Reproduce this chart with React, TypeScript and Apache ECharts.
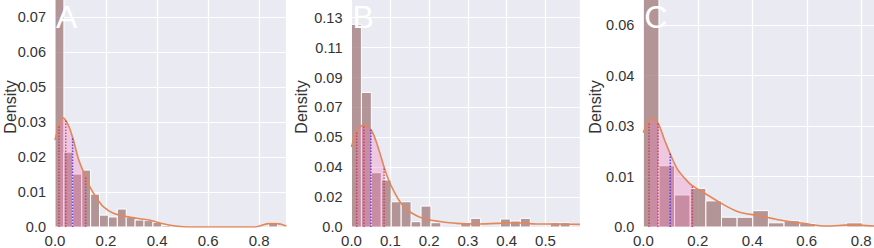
import React, { useEffect, useRef } from "react";
import * as echarts from "echarts";

// ---------- data ----------
const panelLetters = ["A", "B", "C"];
const yAxisTitle = "Density";

// Panel A
const aBinWidth = 0.0349;
const aHist = [0.085, 0.0246, 0.0174, 0.0187, 0.0108, 0.0039, 0.0033, 0.0059, 0.0032, 0.0023, 0.0021, 0.0015, 0.0005, 0, 0, 0, 0, 0, 0, 0, 0, 0, 0, 0, 0.0014, 0];
const aKdeX = [0, 0.015, 0.03, 0.052, 0.072, 0.091, 0.111, 0.137, 0.164, 0.189, 0.229, 0.281, 0.333, 0.373, 0.412, 0.464, 0.502, 0.6, 0.75, 0.79, 0.836, 0.869, 0.907];
const aKdeY = [0.0286, 0.0332, 0.036, 0.0335, 0.0286, 0.0226, 0.0182, 0.0132, 0.0094, 0.0067, 0.0045, 0.0034, 0.0027, 0.0022, 0.0013, 0.0004, 0.0001, 0, 0, 0.0001, 0.0011, 0.0011, 0.0003];
const aQuartiles = [0.0157, 0.042, 0.12];
const aQuartileTops = [0.0332, 0.0352, 0.0165];
const aMean = 0.069;
const aMeanTop = 0.0295;
const aYTicks = ["0.0", "0.01", "0.02", "0.03", "0.05", "0.06", "0.07"];
const aYStep = 0.0115;
const aXTicks = ["0.0", "0.2", "0.4", "0.6", "0.8"];
const aXStep = 0.2;
const aXMax = 0.907;

// Panel B
const bBinWidth = 0.0256;
const bHist = [0.122, 0.081, 0.0327, 0.0283, 0.0152, 0.0152, 0.0032, 0.0126, 0.0026, 0, 0, 0.0022, 0.0052, 0, 0, 0.0048, 0.0036, 0.0052, 0, 0, 0.0026, 0.0026, 0];
const bKdeX = [0, 0.0134, 0.0304, 0.052, 0.069, 0.0863, 0.1036, 0.129, 0.155, 0.189, 0.228, 0.271, 0.323, 0.374, 0.426, 0.477, 0.529, 0.5886];
const bKdeY = [0.0482, 0.0572, 0.0614, 0.0578, 0.0476, 0.0343, 0.0241, 0.0138, 0.0084, 0.0048, 0.0033, 0.0022, 0.0018, 0.0022, 0.0026, 0.0018, 0.0018, 0.0016];
const bQuartiles = [0.0134, 0.032, 0.084];
const bQuartileTops = [0.057, 0.0613, 0.036];
const bMean = 0.05;
const bMeanTop = 0.059;
const bYTicks = ["0.0", "0.02", "0.04", "0.05", "0.07", "0.09", "0.11", "0.13"];
const bYStep = 0.018;
const bXTicks = ["0.0", "0.1", "0.2", "0.3", "0.4", "0.5"];
const bXStep = 0.1;
const bXMax = 0.5886;

// Panel C
const cBinWidth = 0.0574;
const cHist = [0.075, 0.0176, 0.0092, 0.0111, 0.0075, 0.0028, 0.0028, 0.0047, 0.0012, 0.0018, 0.001, 0, 0, 0.0012, 0];
const cKdeX = [0, 0.032, 0.054, 0.078, 0.103, 0.127, 0.152, 0.176, 0.225, 0.286, 0.348, 0.428, 0.502, 0.6, 0.673, 0.759, 0.861];
const cKdeY = [0.0271, 0.0312, 0.0298, 0.025, 0.0202, 0.0164, 0.014, 0.0121, 0.0097, 0.0068, 0.0044, 0.0032, 0.002, 0.0009, 0.0003, 0.0006, 0.0002];
const cQuartiles = [0.021, 0.054, 0.18];
const cQuartileTops = [0.0297, 0.0298, 0.0118];
const cMean = 0.099;
const cMeanTop = 0.021;
const cYTicks = ["0.0", "0.01", "0.03", "0.04", "0.06"];
const cYStep = 0.0145;
const cXTicks = ["0.0", "0.2", "0.4", "0.6", "0.8"];
const cXStep = 0.2;
const cXMax = 0.861;

// ---------- layout / style ----------
const FONT = '"Liberation Sans", Arial, sans-serif';
const BG = "#EAEAF2";
const BAR = "rgba(160,120,120,0.75)";
const KDE = "#e2875a";
const FILL = "rgba(245,125,190,0.32)";
const RED = "rgba(205,40,80,0.75)";
const BLUE = "rgba(70,50,230,0.85)";

const grids = [
  { left: 55, top: -13, width: 231.4, height: 240, titleX: 10, yPxPerStep: 35 },
  { left: 351.5, top: -13, width: 228.4, height: 240, titleX: 301, yPxPerStep: 29.9 },
  { left: 643.3, top: -13, width: 234.6, height: 240, titleX: 595, yPxPerStep: 50.5 },
];

type Panel = {
  binWidth: number; hist: number[]; kdeX: number[]; kdeY: number[];
  q: number[]; qTops: number[]; mean: number; meanTop: number;
  yTicks: string[]; yStep: number; xTicks: string[]; xStep: number; xMax: number;
};

const panels: Panel[] = [
  { binWidth: aBinWidth, hist: aHist, kdeX: aKdeX, kdeY: aKdeY, q: aQuartiles, qTops: aQuartileTops, mean: aMean, meanTop: aMeanTop, yTicks: aYTicks, yStep: aYStep, xTicks: aXTicks, xStep: aXStep, xMax: aXMax },
  { binWidth: bBinWidth, hist: bHist, kdeX: bKdeX, kdeY: bKdeY, q: bQuartiles, qTops: bQuartileTops, mean: bMean, meanTop: bMeanTop, yTicks: bYTicks, yStep: bYStep, xTicks: bXTicks, xStep: bXStep, xMax: bXMax },
  { binWidth: cBinWidth, hist: cHist, kdeX: cKdeX, kdeY: cKdeY, q: cQuartiles, qTops: cQuartileTops, mean: cMean, meanTop: cMeanTop, yTicks: cYTicks, yStep: cYStep, xTicks: cXTicks, xStep: cXStep, xMax: cXMax },
];

function tickFormatter(labels: string[], step: number) {
  return (v: number) => {
    const i = Math.round(v / step);
    if (Math.abs(v - i * step) > step * 0.01) return "";
    return labels[i] ?? "";
  };
}

function buildOption() {
  const grid: any[] = [];
  const xAxis: any[] = [];
  const yAxis: any[] = [];
  const series: any[] = [];
  const graphic: any[] = [];

  panels.forEach((p, i) => {
    const g = grids[i];
    grid.push({
      left: g.left, top: g.top, width: g.width, height: g.height,
      show: true, backgroundColor: BG, borderWidth: 0, containLabel: false,
      outerBoundsMode: "none",
    });
    xAxis.push({
      type: "value", gridIndex: i, min: 0, max: p.xMax, interval: p.xStep,
      axisLine: { show: false }, axisTick: { show: false },
      splitLine: { show: true, lineStyle: { color: "#ffffff", width: 1.2 } },
      axisLabel: {
        formatter: tickFormatter(p.xTicks, p.xStep), color: "#333", fontSize: 15,
        fontFamily: FONT, margin: 6, showMaxLabel: false,
      },
    });
    const yMax = (p.yStep * g.height) / g.yPxPerStep;
    yAxis.push({
      type: "value", gridIndex: i, min: 0, max: yMax, interval: p.yStep,
      axisLine: { show: false }, axisTick: { show: false },
      splitLine: { show: true, lineStyle: { color: "#ffffff", width: 1.2 } },
      axisLabel: {
        formatter: tickFormatter(p.yTicks, p.yStep), color: "#333", fontSize: 14.5,
        fontFamily: FONT, margin: 9, showMaxLabel: false,
      },
    });

    // histogram
    series.push({
      type: "custom", xAxisIndex: i, yAxisIndex: i, z: 2,
      data: p.hist.map((h, k) => [k * p.binWidth, (k + 1) * p.binWidth, h]),
      encode: { x: [0, 1], y: 2 },
      renderItem: (params: any, api: any) => {
        const h = api.value(2);
        if (!h) return null;
        const p0 = api.coord([api.value(0), h]);
        const p1 = api.coord([api.value(1), 0]);
        const cs = params.coordSys;
        const shape = echarts.graphic.clipRectByRect(
          { x: p0[0], y: p0[1], width: p1[0] - p0[0], height: p1[1] - p0[1] },
          { x: cs.x, y: cs.y, width: cs.width, height: cs.height }
        );
        if (!shape) return null;
        return { type: "rect", shape, style: { fill: BAR, stroke: "#ffffff", lineWidth: 1 } };
      },
    });

    // pink fill between Q1 and Q3
    const fillPts: number[][] = [[p.q[0], p.qTops[0]]];
    p.kdeX.forEach((x, k) => {
      if (x > p.q[0] && x < p.q[2]) fillPts.push([x, p.kdeY[k]]);
    });
    fillPts.push([p.q[2], p.qTops[2]]);
    series.push({
      type: "line", xAxisIndex: i, yAxisIndex: i, z: 3,
      data: fillPts, smooth: 0.3, showSymbol: false, symbol: "none",
      lineStyle: { width: 0, color: FILL }, areaStyle: { color: FILL, opacity: 1 },
    });

    // KDE line
    series.push({
      type: "line", xAxisIndex: i, yAxisIndex: i, z: 4,
      data: p.kdeX.map((x, k) => [x, p.kdeY[k]]), smooth: 0.3, showSymbol: false, symbol: "none",
      lineStyle: { width: 1.6, color: KDE },
    });

    // dotted lines (quartiles red, mean blue)
    const lines = [
      ...p.q.map((x, k) => [x, p.qTops[k], 0]),
      [p.mean, p.meanTop, 1],
    ];
    series.push({
      type: "custom", xAxisIndex: i, yAxisIndex: i, z: 5,
      data: lines, encode: { x: 0, y: 1 },
      renderItem: (params: any, api: any) => {
        const a = api.coord([api.value(0), 0]);
        const b = api.coord([api.value(0), api.value(1)]);
        return {
          type: "line",
          shape: { x1: a[0], y1: a[1], x2: b[0], y2: b[1] },
          style: { stroke: api.value(2) === 1 ? BLUE : RED, lineWidth: 1.5, lineDash: [1.5, 1.5] },
        };
      },
    });

    graphic.push({
      type: "text", x: g.left + 1, y: 1, z: 10,
      style: {
        text: panelLetters[i], fill: "#ffffff", font: `32px ${FONT}`,
        align: "left", verticalAlign: "top",
      },
    });
    graphic.push({
      type: "text", x: g.titleX, y: 107, rotation: Math.PI / 2, z: 10,
      style: {
        text: yAxisTitle, fill: "#333", font: `16px ${FONT}`,
        align: "center", verticalAlign: "middle",
      },
    });
  });

  return { animation: false, backgroundColor: "#ffffff", grid, xAxis, yAxis, series, graphic };
}

export default function App() {
  const ref = useRef<HTMLDivElement>(null);
  useEffect(() => {
    if (!ref.current) return;
    const chart = echarts.init(ref.current, undefined, { renderer: "svg" });
    chart.setOption(buildOption() as any);
    return () => chart.dispose();
  }, []);
  return (
    <div
      ref={ref}
      style={{ position: "fixed", left: 0, top: 0, width: 874, height: 248, overflow: "hidden" }}
    />
  );
}
